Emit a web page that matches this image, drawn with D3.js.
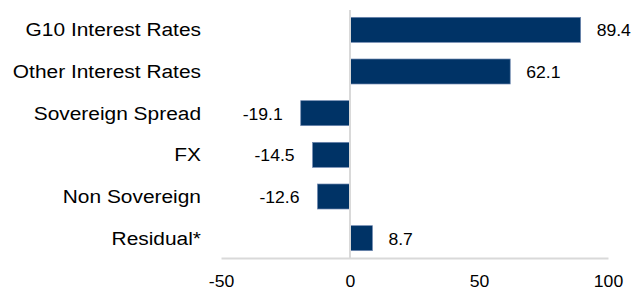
<!DOCTYPE html>
<html>
<head>
<meta charset="utf-8">
<script src="https://cdn.jsdelivr.net/npm/d3@7"></script>
<style>
  body { margin: 0; background: #fff; }
  text { font-family: "Liberation Sans", Arial, sans-serif; fill: #000; }
</style>
</head>
<body>
<script>
var width = 633, height = 291;

// datos
var categorias = ["G10 Interest Rates", "Other Interest Rates", "Sovereign Spread", "FX", "Non Sovereign", "Residual*"];
var valores = [89.4, 62.1, -19.1, -14.5, -12.6, 8.7];
var ticks = [-50, 0, 50, 100];

var stretch = 1.1; // el texto original sale un poco ensanchado

// guion normal en vez del signo menos unicode
var locale = d3.formatLocale({decimal: ".", thousands: ",", grouping: [3], currency: ["", ""], minus: "-"});

var svg = d3.select("body").append("svg")
  .attr("width", width)
  .attr("height", height);

var x = d3.scaleLinear().domain([-50, 100]).range([221, 608]);
var y = d3.scaleBand().domain(categorias).range([9, 259])
  .paddingInner(0.4).paddingOuter(0.2);

// eje x (solo linea + etiquetas)
var xAxis = d3.axisBottom(x).tickValues(ticks).tickSize(0).tickPadding(0)
  .tickFormat(locale.format("d"));
var gx = svg.append("g").attr("transform", "translate(0,258)").call(xAxis);
gx.select(".domain").attr("stroke", "#d9d9d9").attr("stroke-width", 2);
gx.selectAll(".tick text")
  .attr("y", 0).attr("dy", null)
  .attr("font-size", 16)
  .attr("transform", "translate(0,29) scale(" + stretch + ",1)")
  .style("font-family", "Liberation Sans, Arial, sans-serif")
  .attr("fill", "#000");

// barras
svg.selectAll("rect.bar")
  .data(valores)
  .enter().append("rect")
  .attr("class", "bar")
  .attr("x", function(d){ return x(Math.min(0, d)); })
  .attr("y", function(d, i){ return y(categorias[i]); })
  .attr("width", function(d){ return Math.abs(x(d) - x(0)); })
  .attr("height", y.bandwidth())
  .attr("fill", "#003366")
  .attr("stroke", "#6f88b0")
  .attr("stroke-width", 0.7);

// linea del cero
svg.append("line")
  .attr("x1", x(0)).attr("x2", x(0))
  .attr("y1", 10).attr("y2", 258)
  .attr("stroke", "#d9d9d9")
  .attr("stroke-width", 2);

// nombres de categorias
svg.selectAll("text.cat")
  .data(categorias)
  .enter().append("text")
  .attr("class", "cat")
  .attr("text-anchor", "end")
  .attr("font-size", 19)
  .attr("dy", "0.35em")
  .attr("transform", function(d){
    return "translate(201," + (y(d) + y.bandwidth() / 2) + ") scale(" + stretch + ",1)";
  })
  .text(function(d){ return d; });

// valores
var fmt = locale.format(".1f");
svg.selectAll("text.val")
  .data(valores)
  .enter().append("text")
  .attr("class", "val")
  .attr("text-anchor", function(d){ return d < 0 ? "end" : "start"; })
  .attr("font-size", 16)
  .attr("dy", "0.35em")
  .attr("transform", function(d, i){
    var px = d < 0 ? x(d) - 18 : x(d) + 16;
    return "translate(" + px + "," + (y(categorias[i]) + y.bandwidth() / 2 + 1) + ") scale(" + stretch + ",1)";
  })
  .text(function(d){ return fmt(d); });
</script>
</body>
</html>
